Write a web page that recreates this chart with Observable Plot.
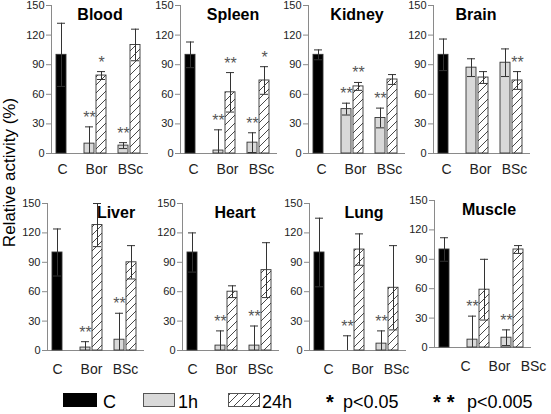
<!DOCTYPE html>
<html><head><meta charset="utf-8">
<script src="https://cdn.jsdelivr.net/npm/d3@7"></script>
<script src="https://cdn.jsdelivr.net/npm/@observablehq/plot@0.6"></script>
<style>
body{margin:0;background:#fff;font-family:"Liberation Sans",Arial,sans-serif;}
#wrap{position:relative;width:551px;height:414px;overflow:hidden;background:#fff;}
#wrap svg.pn{position:absolute;}
</style></head><body>
<svg width="0" height="0" style="position:absolute">
<defs><pattern id="hatch" patternUnits="userSpaceOnUse" width="8" height="8">
<rect width="8" height="8" fill="#fff"/>
<path d="M-1,1 L1,-1 M0,8 L8,0 M7,9 L9,7" stroke="#333" stroke-width="0.9"/>
</pattern></defs></svg>
<div id="wrap"></div>
<script>
// ---- data ----
const groups = ["C", "Bor", "BSc"];
const seriesNames = ["C", "1h", "24h"];
const slotGroup  = ["C", "Bor", "Bor", "BSc", "BSc"];
const slotSeries = ["C", "1h", "24h", "1h", "24h"];
const yTicks = [0, 30, 60, 90, 120, 150];
const organs = ["Blood", "Spleen", "Kidney", "Brain", "Liver", "Heart", "Lung", "Muscle"];

const bloodMean  = [100, 10, 79, 8, 110];
const bloodErr   = [32, 17, 4, 3, 16];
const bloodSig   = ["", "**", "*", "**", ""];
const spleenMean = [100, 3, 62, 11, 74];
const spleenErr  = [13, 21, 20, 10, 14];
const spleenSig  = ["", "**", "**", "**", "*"];
const kidneyMean = [100, 45, 68, 36, 75];
const kidneyErr  = [5, 6, 4, 10, 5];
const kidneySig  = ["", "**", "**", "**", ""];
const brainMean  = [100, 87, 77, 92, 74];
const brainErr   = [16, 9, 6, 14, 9];
const brainSig   = ["", "", "", "", "**"];
const liverMean  = [100, 3, 128, 11, 90];
const liverErr   = [24, 6, 22, 27, 17];
const liverSig   = ["", "**", "", "**", ""];
const heartMean  = [100, 5, 60, 5, 82];
const heartErr   = [20, 15, 6, 20, 28];
const heartSig   = ["", "**", "", "**", ""];
const lungMean   = [100, 0, 103, 7, 64];
const lungErr    = [35, 15, 16, 13, 43];
const lungSig    = ["", "**", "", "**", ""];
const muscleMean = [100, 8, 59, 10, 100];
const muscleErr  = [12, 24, 31, 8, 4];
const muscleSig  = ["", "**", "", "**", ""];
const legendSig = ["*", "**"];
const legendSigText = ["p<0.05", "p<0.005"];

const panelData = {
  Blood: [bloodMean, bloodErr, bloodSig],
  Spleen: [spleenMean, spleenErr, spleenSig],
  Kidney: [kidneyMean, kidneyErr, kidneySig],
  Brain: [brainMean, brainErr, brainSig],
  Liver: [liverMean, liverErr, liverSig],
  Heart: [heartMean, heartErr, heartSig],
  Lung: [lungMean, lungErr, lungSig],
  Muscle: [muscleMean, muscleErr, muscleSig]
};

// ---- layout / style (not data) ----
const layout = {
  Blood:  {ax: 51,  top: 0,   tdx: 0,  ldx: 1},
  Spleen: {ax: 180, top: 0,   tdx: 4,  ldx: 3},
  Kidney: {ax: 308, top: 0,   tdx: 0,  ldx: 3},
  Brain:  {ax: 433, top: 0,   tdx: -6, ldx: 3},
  Liver:  {ax: 47,  top: 198, tdx: 20, ldx: 0},
  Heart:  {ax: 182, top: 198, tdx: 4,  ldx: 0},
  Lung:   {ax: 309, top: 198, tdx: 6,  ldx: 9},
  Muscle: {ax: 434, top: 195, tdx: 6,  ldx: 21}
};
const fills = {C: "#000", "1h": "#d9d9d9", "24h": "url(#hatch)"};
const offs = {C: 0, "1h": -6, "24h": 6};
const ML = 30, HALF = 17, AXC = "#8a8a8a", EC = "#333";

const wrap = document.getElementById("wrap");

organs.forEach((name, k) => {
  const [mean, err, sig] = panelData[name];
  const L = layout[name];
  const bottomRow = k >= 4;
  const rows = slotGroup.map((g, i) => ({group: g, series: slotSeries[i], mean: mean[i], err: err[i], sig: sig[i]}));
  const marks = [];
  marks.push(Plot.ruleY([0], {stroke: AXC}));
  marks.push(Plot.ruleX(["C"], {x: d => d, y1: 0, y2: 150, dx: -(HALF - 7), stroke: AXC}));
  for (const s of seriesNames) {
    const d = rows.filter(r => r.series === s);
    const o = offs[s];
    marks.push(Plot.barY(d, {x: "group", y: "mean", fill: fills[s], stroke: "#333", strokeWidth: 0.9,
      insetLeft: HALF + o - 5, insetRight: HALF - o - 5}));
  }
  for (const s of seriesNames) {
    const d = rows.filter(r => r.series === s);
    const o = offs[s];
    marks.push(Plot.ruleX(d, {x: "group", y1: r => r.mean - r.err, y2: r => r.mean + r.err, dx: o, stroke: EC, clip: true}));
    marks.push(Plot.tickY(d, {x: "group", y: r => r.mean + r.err, stroke: EC, insetLeft: HALF + o - 4, insetRight: HALF - o - 4, clip: true}));
    marks.push(Plot.tickY(d, {x: "group", y: r => r.mean - r.err, stroke: EC, insetLeft: HALF + o - 4, insetRight: HALF - o - 4, clip: true}));
    marks.push(Plot.text(d.filter(r => r.sig), {x: "group", y: r => r.mean + r.err, text: "sig", dx: o, dy: -4,
      lineAnchor: "bottom", fontSize: 16, fill: "#555"}));
  }
  marks.push(Plot.axisY({ticks: yTicks, tickSize: 5, tickPadding: 2, fontSize: 11, stroke: AXC, color: "#222", label: null}));
  marks.push(Plot.axisX({tickSize: 0, tickPadding: bottomRow ? 14 : 11, fontSize: 14, dx: L.ldx, color: "#222", label: null}));
  marks.push(Plot.text([name], {frameAnchor: "top", dy: 9, dx: L.tdx, lineAnchor: "middle", fontSize: 16, fontWeight: "bold", fill: "#000"}));

  const height = bottomRow ? 177 : 180;
  const svg = Plot.plot({
    width: 130, height,
    marginLeft: ML, marginRight: 3, marginTop: 5, marginBottom: bottomRow ? 25 : 27,
    x: {type: "band", domain: groups, range: [ML - 7, ML + 95], padding: 0},
    y: {domain: [0, 150]},
    style: {background: "transparent", overflow: "visible", fontFamily: "'Liberation Sans', Arial, sans-serif"},
    marks
  });
  svg.classList.add("pn");
  svg.style.position = "absolute";
  svg.style.left = (L.ax - ML) + "px";
  svg.style.top = L.top + "px";
  wrap.appendChild(svg);
});

// overlay: y label + legend
const NS = "http://www.w3.org/2000/svg";
const ov = document.createElementNS(NS, "svg");
ov.setAttribute("width", 551); ov.setAttribute("height", 414);
ov.style.position = "absolute"; ov.style.left = "0"; ov.style.top = "0";
ov.setAttribute("font-family", "'Liberation Sans', Arial, sans-serif");
ov.innerHTML = `
<text transform="translate(14.5,172.5) rotate(-90)" text-anchor="middle" font-size="17" fill="#000">Relative activity (%)</text>
<rect x="63" y="393" width="34" height="14" fill="#000"/>
<text x="103" y="408" font-size="18">${seriesNames[0]}</text>
<rect x="143.5" y="393.5" width="31" height="13" fill="#d9d9d9" stroke="#555"/>
<text x="178" y="408" font-size="18">${seriesNames[1]}</text>
<rect x="228.5" y="393.5" width="31" height="13" fill="url(#hatch)" stroke="#555"/>
<text x="262" y="408" font-size="18">${seriesNames[2]}</text>
<text x="326" y="409" font-size="20" font-weight="bold">${legendSig[0]}</text>
<text x="343" y="408" font-size="18">${legendSigText[0].replace("<", "&lt;")}</text>
<text x="433" y="409" font-size="20" font-weight="bold" letter-spacing="6">${legendSig[1]}</text>
<text x="467" y="408" font-size="18">${legendSigText[1].replace("<", "&lt;")}</text>`;
wrap.appendChild(ov);
</script>
</body></html>
